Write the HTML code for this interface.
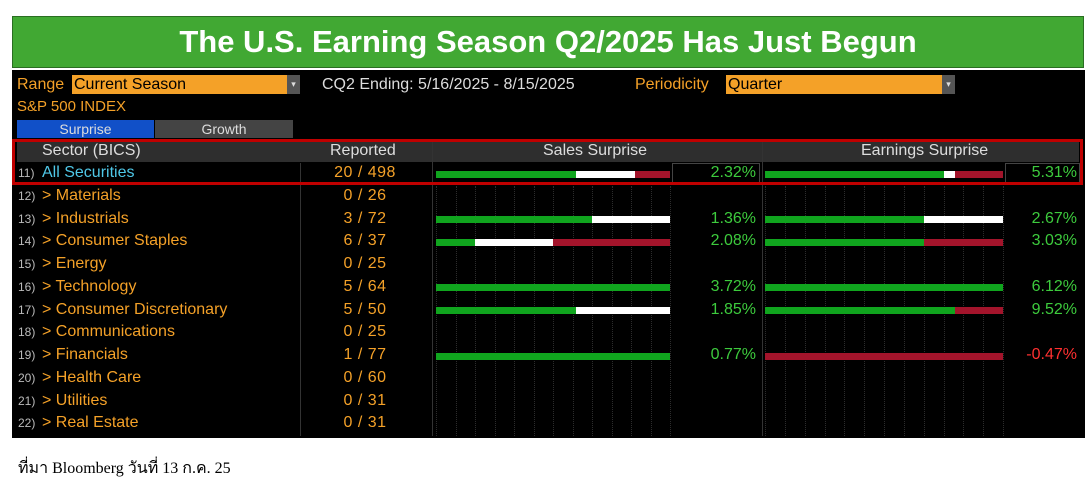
<!DOCTYPE html>
<html><head><meta charset="utf-8"><style>
body{margin:0;width:1086px;height:500px;background:#fff;position:relative;overflow:hidden;font-family:"Liberation Sans",sans-serif}
.a{position:absolute;white-space:nowrap}
#banner{left:12px;top:16px;width:1072px;height:52px;background:#41a833;border:1px solid #2a6e22;box-sizing:border-box;color:#fff;font-weight:bold;font-size:31px;text-align:center;line-height:50px}
#panel{left:12px;top:70px;width:1073px;height:368px;background:#000}
.o{color:#f4a128;font-size:16px}
.g{color:#3dcb3d;font-size:16px}
</style></head><body>
<div class="a" id="banner">The U.S. Earning Season Q2/2025 Has Just Begun</div>
<div class="a" id="panel"></div>
<div class="a o" style="left:17px;top:76px">Range</div>
<div class="a" style="left:72px;top:75px;width:228px;height:19px;background:#f4a128;color:#000;font-size:16px;line-height:19px;padding-left:2px;box-sizing:border-box">Current Season</div>
<div class="a" style="left:287px;top:75px;width:13px;height:19px;background:#555;color:#ddd;font-size:9px;text-align:center;line-height:19px">▾</div>
<div class="a" style="left:322px;top:76px;color:#ddd;font-size:16px">CQ2 Ending: 5/16/2025 - 8/15/2025</div>
<div class="a o" style="left:635px;top:76px">Periodicity</div>
<div class="a" style="left:726px;top:75px;width:229px;height:19px;background:#f4a128;color:#000;font-size:16px;line-height:19px;padding-left:2px;box-sizing:border-box">Quarter</div>
<div class="a" style="left:942px;top:75px;width:13px;height:19px;background:#555;color:#ddd;font-size:9px;text-align:center;line-height:19px">▾</div>
<div class="a o" style="left:17px;top:98px;font-size:15px">S&amp;P 500 INDEX</div>
<div class="a" style="left:17px;top:120px;width:137px;height:18px;background:#1150c8;color:#ddd;font-size:14px;text-align:center;line-height:18px">Surprise</div>
<div class="a" style="left:155px;top:120px;width:138px;height:18px;background:#444;color:#ddd;font-size:14px;text-align:center;line-height:18px">Growth</div>
<div class="a" style="left:17px;top:141px;width:1062px;height:21px;background:#2e2e2e"></div>
<div class="a" style="left:42px;top:142px;color:#ddd;font-size:16px">Sector (BICS)</div>
<div class="a" style="left:330px;top:142px;color:#ddd;font-size:16px">Reported</div>
<div class="a" style="left:543px;top:142px;color:#ddd;font-size:16px">Sales Surprise</div>
<div class="a" style="left:861px;top:142px;color:#ddd;font-size:16px">Earnings Surprise</div>
<div id="rows"></div>
<div class="a" style="left:12px;top:139px;width:1071px;height:46px;border:3px solid #c00000;box-sizing:border-box"></div>
<div class="a" style="left:18px;top:456px;font-family:'Liberation Serif','DejaVu Serif',serif;font-size:16px;color:#000">ที่มา Bloomberg วันที่ 13 ก.ค. 25</div>
<script>
const sectors=["All Securities","Materials","Industrials","Consumer Staples","Energy","Technology","Consumer Discretionary","Communications","Financials","Health Care","Utilities","Real Estate"];
const reported=[20,0,3,6,0,5,5,0,1,0,0,0];
const totals=[498,26,72,37,25,64,50,25,77,60,31,31];
const salesBeat=[12,0,2,1,0,5,3,0,1,0,0,0];
const salesInline=[5,0,1,2,0,0,2,0,0,0,0,0];
const salesMiss=[3,0,0,3,0,0,0,0,0,0,0,0];
const salesVal=["2.32%","","1.36%","2.08%","","3.72%","1.85%","","0.77%","","",""];
const earnBeat=[15,0,2,4,0,5,4,0,0,0,0,0];
const earnInline=[1,0,1,0,0,0,0,0,0,0,0,0];
const earnMiss=[4,0,0,2,0,0,1,0,1,0,0,0];
const earnVal=["5.31%","","2.67%","3.03%","","6.12%","9.52%","","-0.47%","","",""];
const R=document.getElementById('rows');
const rowY=i=>163+i*22.75;
function mk(st,txt){const d=document.createElement('div');d.className='a';d.style.cssText=st;if(txt!==undefined)d.textContent=txt;R.appendChild(d);return d;}
let s=mk('left:300px;top:163px;width:1px;height:273px;background:#333');


s=mk('left:432px;top:141px;width:1px;height:295px;background:#333');


s=mk('left:762px;top:141px;width:1px;height:295px;background:#333');


[[436,670],[765,1003]].forEach(([a,b])=>{for(let k=0;k<=12;k++){const g=mk('left:'+(a+(b-a)*k/12)+'px;top:186px;width:0;height:250px;border-left:1px dotted #2c2c2c');

}});
[[672,760],[1005,1080]].forEach(([a,b])=>{const bx=mk('left:'+a+'px;top:163px;width:'+(b-a)+'px;height:20px;border:1px solid #444;box-sizing:border-box');

});
function bar(x0,x1,y,b,i,m,nm){const t=b+i+m;if(!t)return;const w=x1-x0;let x=x0;[[b,'#10a51e'],[i,'#ffffff'],[m,'#a3142b']].forEach(([v,c])=>{if(!v)return;const ww=w*v/t;const e=mk('left:'+x+'px;top:'+(y-3.5)+'px;width:'+ww+'px;height:7px;background:'+c);

x+=ww;});}
sectors.forEach((n,i)=>{const y=rowY(i),cy=y+11;
let e=mk('left:18px;top:'+(y+3)+'px;color:#bbb;font-size:12px',(11+i)+')');


e=mk('left:42px;top:'+(y+1)+'px;font-size:16px;color:'+(i?'#f4a128':'#4fc8e8'),(i?'> ':'')+n);


e=mk('left:300px;width:130px;text-align:center;top:'+(y+1)+'px;font-size:16px;color:#f4a128;letter-spacing:0.5px',reported[i]+' / '+totals[i]);


bar(436,670,cy,salesBeat[i],salesInline[i],salesMiss[i],'sales-bar');
bar(765,1003,cy,earnBeat[i],earnInline[i],earnMiss[i],'earnings-bar');
e=mk('left:672px;width:84px;text-align:right;top:'+(y+1)+'px;font-size:16px;color:#3dcb3d',salesVal[i]);


e=mk('left:1005px;width:72px;text-align:right;top:'+(y+1)+'px;font-size:16px;color:'+(earnVal[i][0]=='-'?'#ff3030':'#3dcb3d'),earnVal[i]);


});
</script>
</body></html>
